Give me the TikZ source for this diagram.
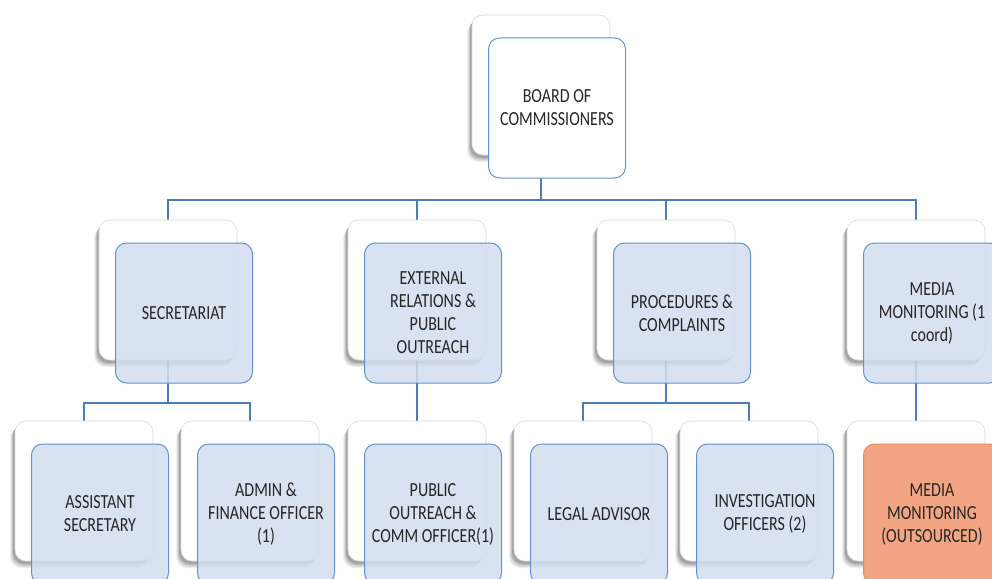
\documentclass[tikz,border=0pt]{standalone}
\usepackage{fontspec}
\newfontfamily\orgfont[FakeStretch=0.8]{Carlito}
\definecolor{lineblue}{HTML}{4A7EBB}
\definecolor{frontborder}{HTML}{6492CB}
\definecolor{frontfill}{HTML}{D3DEEE}
\definecolor{backborder}{HTML}{DADADA}
\definecolor{orangefill}{HTML}{F3A583}
\definecolor{orangeborder}{HTML}{E58A5E}
\definecolor{textgrey}{HTML}{262626}
\pgfdeclarelayer{bg}
\pgfdeclarelayer{paper}
\pgfsetlayers{paper,bg,main}
\tikzset{
  shadowlayer/.style n args={3}{preaction={draw=none, fill=black, fill opacity=#3,
    transform canvas={shift={(#1,#2)}}}},
  backbox/.style={draw=backborder, line width=0.6pt, fill=white, rounded corners=11pt,
    minimum width=138pt, minimum height=140pt, inner sep=0pt,
    shadowlayer={-5pt}{-7pt}{0.06},
    shadowlayer={-4pt}{-6pt}{0.08},
    shadowlayer={-3pt}{-4.5pt}{0.12},
    shadowlayer={-2pt}{-3pt}{0.15}},
  frontbase/.style={rounded corners=11pt, minimum width=137pt, minimum height=140pt,
    inner sep=3pt, align=center, text=textgrey, line width=1pt,
    font=\orgfont\fontsize{20}{23}\selectfont},
  bluebox/.style={frontbase, draw=frontborder, fill=frontfill, fill opacity=0.85, text opacity=1},
  whitebox/.style={frontbase, draw=frontborder, fill=white},
  orangebox/.style={frontbase, draw=orangeborder, fill=orangefill},
  conn/.style={draw=lineblue, line width=1.4pt}
}
\newcommand{\orgunit}[5]{%
  \node[backbox] (#1b) at (#2, #3+70) {};
  \node[#4] (#1) at (#2+16, #3+93) {#5};
}
\begin{document}
\begin{tikzpicture}[x=1pt, y=-1pt]
\clip (0,0) rectangle (992,578);
\begin{pgfonlayer}{paper}
\fill[white] (0,0) rectangle (992,578);
\end{pgfonlayer}
% level 1
\orgunit{board}{541}{15}{whitebox}{BOARD OF\\COMMISSIONERS}
% level 2
\orgunit{sec}{168}{220}{bluebox}{SECRETARIAT}
\orgunit{ext}{417}{220}{bluebox}{EXTERNAL\\RELATIONS \&\\PUBLIC\\OUTREACH}
\orgunit{proc}{666}{220}{bluebox}{PROCEDURES \&\\COMPLAINTS}
\orgunit{med}{916}{220}{bluebox}{MEDIA\\MONITORING (1\\coord)}
% level 3
\orgunit{asst}{84}{421}{bluebox}{ASSISTANT\\SECRETARY}
\orgunit{adm}{250}{421}{bluebox}{ADMIN \&\\FINANCE OFFICER\\(1)}
\orgunit{pub}{417}{421}{bluebox}{PUBLIC\\OUTREACH \&\\COMM OFFICER(1)}
\orgunit{leg}{583}{421}{bluebox}{LEGAL ADVISOR}
\orgunit{inv}{749}{421}{bluebox}{INVESTIGATION\\OFFICERS (2)}
\orgunit{out}{916}{421}{orangebox}{MEDIA\\MONITORING\\(OUTSOURCED)}
% buses
\coordinate (bus1) at (0,200);
\coordinate (bus2) at (0,403);
\begin{pgfonlayer}{bg}
\draw[conn] (boardb.south) -- (boardb.south |- bus1);
\draw[conn] (secb.north) -- (secb.north |- bus1) -- (medb.north |- bus1) -- (medb.north);
\draw[conn] (extb.north) -- (extb.north |- bus1);
\draw[conn] (procb.north) -- (procb.north |- bus1);
\draw[conn] (secb.south) -- (secb.south |- bus2);
\draw[conn] (asstb.north) -- (asstb.north |- bus2) -- (admb.north |- bus2) -- (admb.north);
\draw[conn] (extb.south) -- (pubb.north);
\draw[conn] (procb.south) -- (procb.south |- bus2);
\draw[conn] (legb.north) -- (legb.north |- bus2) -- (invb.north |- bus2) -- (invb.north);
\draw[conn] (medb.south) -- (outb.north);
\end{pgfonlayer}
\end{tikzpicture}
\end{document}
